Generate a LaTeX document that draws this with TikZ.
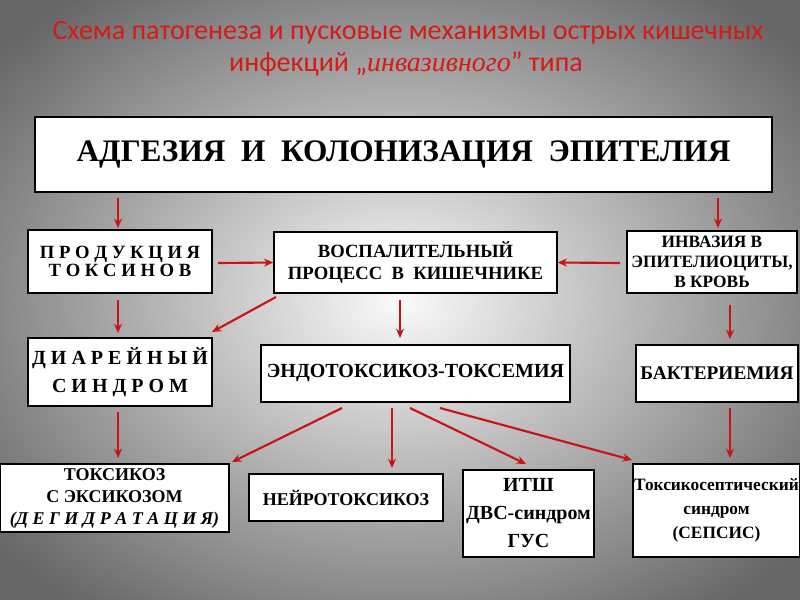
\documentclass[tikz,border=0pt]{standalone}
\usetikzlibrary{arrows.meta}
\usepackage{fontspec}
\setmainfont{Liberation Serif}
\newfontfamily\titlefont{Carlito}
\newcommand\fs[1]{\bfseries\fontsize{#1}{#1}\selectfont}
\begin{document}
\begin{tikzpicture}[x=0.75pt,y=-0.75pt,
  box/.style={draw=black,line width=1.2pt,fill=white,align=center,font=\fs{14},inner sep=1pt},
  arr/.style={draw={rgb,255:red,200;green,20;blue,20},line width=1.6pt,-{Stealth[length=7pt,width=6pt]}}]
\useasboundingbox (0,0) rectangle (800,600);
\begin{scope}
\clip (0,0) rectangle (800,600);
\shade[inner color=white!96!gray,outer color=gray!80!black] (-120,-90) rectangle (920,690);
\end{scope}
\definecolor{tred}{RGB}{215,25,25}
\node[text=tred,font=\titlefont\fontsize{21}{24}\selectfont] (t1) at (408,33) {Схема патогенеза и пусковые механизмы острых кишечных};
\node[text=tred,font=\titlefont\fontsize{21}{24}\selectfont] (t2) at (406,64) {инфекций „{\rmfamily\itshape инвазивного}” типа};
\node[box,minimum width=552.75pt,minimum height=56.25pt,font=\fs{23.5}] (adh) at (403.5,154.5) {АДГЕЗИЯ\ \ И\ \ КОЛОНИЗАЦИЯ\ \ ЭПИТЕЛИЯ};
\node[box,minimum width=138pt,minimum height=47pt,align=center] (prod) at (120,261.5) {\baselineskip=18pt П Р О Д У К Ц И Я\\Т О К С И Н О В};
\node[box,minimum width=212pt,minimum height=46pt] (vosp) at (415.5,262.5) {ВОСПАЛИТЕЛЬНЫЙ\\[3pt]ПРОЦЕСС\ \ В\ \ КИШЕЧНИКЕ};
\node[box,minimum width=127.5pt,minimum height=46.5pt,font=\fs{13}] (inv) at (712,262) {ИНВАЗИЯ В\\[2pt]ЭПИТЕЛИОЦИТЫ,\\[2pt]В КРОВЬ};
\node[box,minimum width=138pt,minimum height=51pt,font=\fs{15}] (diar) at (120,372) {Д И А Р Е Й Н Ы Й\\[6pt]С И Н Д Р О М};
\node[box,minimum width=231.75pt,minimum height=42.75pt,font=\fs{15}] (endo) at (415.5,373.5) {ЭНДОТОКСИКОЗ-ТОКСЕМИЯ};
\node[box,minimum width=121.5pt,minimum height=42.75pt,font=\fs{14.5}] (bakt) at (717,373.5) {БАКТЕРИЕМИЯ};
\node[box,minimum width=171.75pt,minimum height=51pt,font=\fs{13.5}] (tox) at (114.5,498) {ТОКСИКОЗ\\[3pt]С ЭКСИКОЗОМ\\[3pt]{\itshape (Д Е Г И Д Р А Т А Ц И Я)}};
\node[box,minimum width=145.5pt,minimum height=35.25pt,font=\fs{13.5}] (neur) at (346,497.5) {НЕЙРОТОКСИКОЗ};
\node[box,minimum width=98.25pt,minimum height=65.25pt,font=\fs{15}] (itsh) at (528.5,513.5) {ИТШ\\[6pt]ДВС-синдром\\[6pt]ГУС};
\node[box,minimum width=125.25pt,minimum height=69.75pt,font=\fs{13}] (sep) at (716.5,510.5) {Токсикосептический\\[5pt]синдром\\[5pt](СЕПСИС)};
\draw[arr] (118,198) -- (118,228);
\draw[arr] (718,198) -- (718,228);
\draw[arr] (218,263) -- (vosp.west);
\draw[arr] (620,263) -- (vosp.east);
\draw[arr] (118,300) -- (118,333);
\draw[arr] (276,297) -- (212,332);
\draw[arr] (400,300) -- (400,338);
\draw[arr] (730,305) -- (730,339);
\draw[arr] (118,412) -- (118,458);
\draw[arr] (730,408) -- (730,458);
\draw[arr] (342,408) -- (232,462);
\draw[arr] (392,408) -- (392,468);
\draw[arr] (410,408) -- (526,464);
\draw[arr] (440,408) -- (632,460);
\end{tikzpicture}
\end{document}
